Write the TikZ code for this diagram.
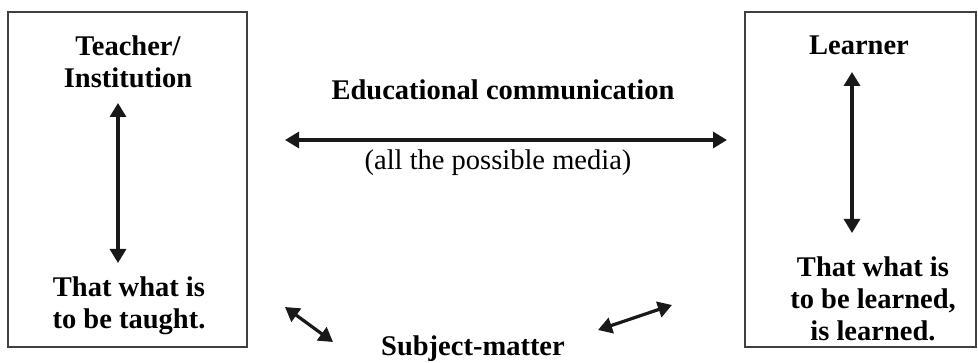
\documentclass[tikz,border=0pt]{standalone}
\usepackage{fontspec}
\setmainfont{Liberation Serif}
\usetikzlibrary{arrows.meta}
\tikzset{
  frame/.style={draw=black!75, line width=1.3pt, minimum width=#1, minimum height=335pt, inner sep=0pt},
  lbl/.style={font=\fontsize{28.5}{32}\selectfont\bfseries, align=center, inner sep=0pt},
  plain/.style={font=\fontsize{28.5}{32}\selectfont, align=center, inner sep=0pt},
  dbl/.style={line width=3.2pt, draw=black!90, {Triangle[length=14pt,width=16pt]}-{Triangle[length=14pt,width=16pt]}}
}
\begin{document}
\begin{tikzpicture}[x=1pt,y=-1pt]
\useasboundingbox (0,0) rectangle (978,363);
\node[frame=239pt] (lbox) at (127.5,179.5) {};
\node[frame=231pt] (rbox) at (860.5,179.5) {};
\node[lbl] (teacher) at (128,62) {Teacher/\\Institution};
\node[lbl] (taught) at (129,306) {That what is\\to be taught.};
\node[lbl] (learner) at (859,45) {Learner};
\node[lbl] (learned) at (873,299) {That what is\\to be learned,\\is learned.};
\node[lbl] (edu) at (503,90) {Educational communication};
\node[plain] (media) at (498,163) {(all the possible media)};
\node[lbl, anchor=base] (subj) at (473,356) {Subject-matter};
\coordinate (t1) at (118,103);
\coordinate (t2) at (118,263);
\coordinate (l1) at (852,72);
\coordinate (l2) at (852,233);
\coordinate (h1) at (285,140);
\coordinate (h2) at (727,140);
\coordinate (d1) at (285,307);
\coordinate (d2) at (333,342);
\coordinate (e1) at (598,330);
\coordinate (e2) at (672,305);
\draw[dbl] (t1) -- (t2);
\draw[dbl] (l1) -- (l2);
\draw[dbl] (h1) -- (h2);
\draw[dbl] (d1) -- (d2);
\draw[dbl] (e1) -- (e2);
\end{tikzpicture}
\end{document}
